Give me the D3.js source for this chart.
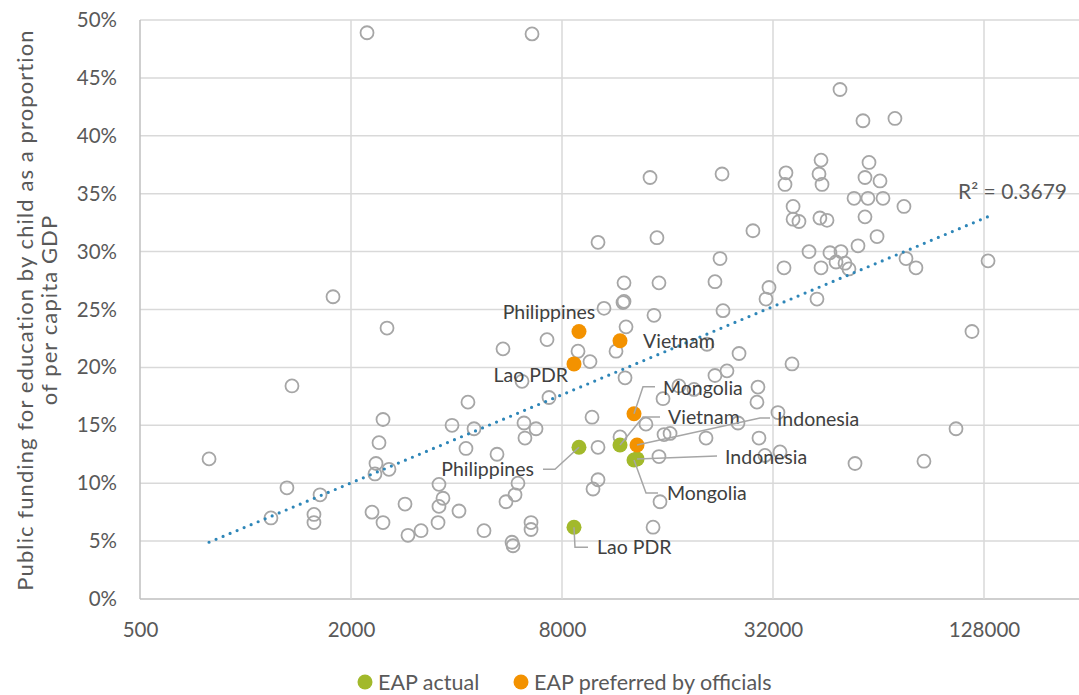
<!DOCTYPE html>
<html>
<head>
<meta charset="utf-8">
<script src="https://cdn.jsdelivr.net/npm/d3@7"></script>
<style>
  body { margin: 0; background: #fff; }
  svg { display: block; font-family: Lato, "Open Sans", sans-serif; }
</style>
</head>
<body>
<svg id="chart" width="1079" height="695"></svg>
<script>
// GDP per capita (x) and public funding share in % (y) for all other countries
const otherGdp = [
  787, 1182, 1313, 1357, 1568, 1568, 1632, 1777, 2222, 2534,
  2468, 2404, 2357, 2341, 2567, 2296, 2468, 2852, 2908, 3169,
  3565, 3660, 3565, 3543, 3884, 4066, 5429, 7250, 6152, 7345,
  4313, 4488, 6232, 6745, 6272, 4257, 5220, 5991, 5876, 5537,
  6527, 6527, 4792, 5760, 5799, 6570, 10543, 11944, 14640, 23040,
  12184, 11408, 8888, 9616, 12104, 20736, 25600, 36256, 15536, 21856,
  23648, 28992, 28800, 17248, 19040, 9744, 13888, 15640, 16272, 20608,
  25424, 29184, 33056, 30352, 33504, 10136, 11712, 15128, 10136, 9808,
  15232, 14552, 14264, 22896, 28048, 10136, 14928, 22592, 12024, 15128,
  21856, 12024, 31168, 30560, 34400, 42720, 40544, 49696, 57792, 71296,
  43872, 34848, 34624, 43296, 44160, 60128, 58560, 64640, 54496, 59712,
  65920, 75648, 36512, 36512, 37952, 43552, 45632, 58560, 63392, 55936,
  46528, 50016, 48416, 51360, 52704, 43872, 76672, 81856, 131456, 118272,
  106496, 54848, 86272
];
const otherShare = [
  12.1, 7.0, 9.6, 18.4, 7.3, 6.6, 9.0, 26.1, 48.9, 23.4,
  15.5, 13.5, 11.7, 10.8, 11.2, 7.5, 6.6, 8.2, 5.5, 5.9,
  9.9, 8.7, 8.0, 6.6, 15.0, 7.6, 21.6, 22.4, 18.8, 17.4,
  17.0, 14.7, 15.2, 14.7, 13.9, 13.0, 12.5, 10.0, 9.0, 8.4,
  6.6, 6.0, 5.9, 4.9, 4.6, 48.8, 25.1, 25.6, 24.5, 24.9,
  23.5, 21.4, 21.4, 20.5, 19.1, 22.0, 21.2, 20.3, 17.3, 19.3,
  19.7, 18.3, 17.0, 18.4, 18.1, 15.7, 15.1, 14.2, 14.3, 13.9,
  15.2, 13.9, 16.1, 12.4, 12.7, 13.1, 14.0, 12.3, 10.3, 9.5,
  8.4, 6.2, 36.4, 36.7, 31.8, 30.8, 31.2, 29.4, 27.3, 27.3,
  27.4, 25.7, 26.9, 25.9, 28.6, 25.9, 30.0, 44.0, 41.3, 41.5,
  37.9, 36.8, 35.8, 36.7, 35.8, 37.7, 36.4, 36.1, 34.6, 34.6,
  34.6, 33.9, 33.9, 32.8, 32.6, 32.9, 32.7, 33.0, 31.3, 30.5,
  29.9, 30.0, 29.1, 29.0, 28.5, 28.6, 29.4, 28.6, 29.2, 23.1,
  14.7, 11.7, 11.9
];

// East Asia & Pacific countries
const eapCountries = ["Philippines", "Vietnam", "Mongolia", "Indonesia", "Lao PDR"];
const eapGdp = [8944, 11712, 12840, 13096, 8656];
const eapActual = [13.1, 13.3, 12.0, 12.1, 6.2];
const eapPreferred = [23.1, 22.3, 16.0, 13.3, 20.3];

// logarithmic trendline at its two ends
const trendGdp = [787, 131000];
const trendShare = [4.9, 33.0];
const trendLabel = "R² = 0.3679";

const xTicks = [500, 2000, 8000, 32000, 128000];
const yTicks = [0, 5, 10, 15, 20, 25, 30, 35, 40, 45, 50];

const seriesNames = ["EAP actual", "EAP preferred by officials"];
const seriesColors = ["#A2B92B", "#F39200"];

// label placement: leader path (relative to point) and text offset
const labelLayout = {
  "actual:Philippines": { path: [[0, 0], [-24, 22], [-36, 22]], dx: -45, dy: 22, anchor: "end" },
  "actual:Vietnam": { path: [[0, 0], [23, -28], [40, -28]], dx: 48, dy: -28, anchor: "start" },
  "actual:Mongolia": { path: [[0, 0], [12, 33], [24, 33]], dx: 33, dy: 33, anchor: "start" },
  "actual:Indonesia": { path: [[0, 0], [80, -3]], dx: 88, dy: -2, anchor: "start" },
  "actual:Lao PDR": { path: [[0, 0], [1, 20], [14, 20]], dx: 23, dy: 20, anchor: "start" },
  "preferred:Philippines": { path: null, dx: -30, dy: -19, anchor: "middle" },
  "preferred:Vietnam": { path: null, dx: 23, dy: 0, anchor: "start" },
  "preferred:Lao PDR": { path: null, dx: -6, dy: 11, anchor: "end" },
  "preferred:Mongolia": { path: [[0, 0], [9, -27], [21, -27]], dx: 29, dy: -26, anchor: "start" },
  "preferred:Indonesia": { path: [[0, 0], [123, -27], [133, -27]], dx: 140, dy: -26, anchor: "start" }
};

const width = 1079;
const height = 695;
const margin = { left: 140, top: 20, bottom: 96 };
const plotBottom = height - margin.bottom;

const textColor = "#595959";
const gridColor = "#D9D9D9";

const svg = d3.select("#chart");

const x = d3.scaleLog().base(2).domain([500, 512000]).range([margin.left, margin.left + 5 * 211]);
const y = d3.scaleLinear().domain([0, 50]).range([plotBottom, margin.top]);

// gridlines
svg.append("g")
  .selectAll("line")
  .data(yTicks)
  .join("line")
  .attr("x1", margin.left)
  .attr("x2", width)
  .attr("y1", d => y(d))
  .attr("y2", d => y(d))
  .attr("stroke", d => (d === 0 ? "#BFBFBF" : gridColor))
  .attr("stroke-width", 1.5);

svg.append("g")
  .selectAll("line")
  .data(xTicks)
  .join("line")
  .attr("x1", d => x(d))
  .attr("x2", d => x(d))
  .attr("y1", margin.top)
  .attr("y2", plotBottom)
  .attr("stroke", d => (d === 500 ? "#BFBFBF" : gridColor))
  .attr("stroke-width", 1.5);

// axes
const xAxis = svg.append("g")
  .attr("transform", `translate(0,${plotBottom})`)
  .call(d3.axisBottom(x).tickValues(xTicks).tickFormat(d3.format("d")).tickSize(0).tickPadding(23));

const yAxis = svg.append("g")
  .attr("transform", `translate(${margin.left},0)`)
  .call(d3.axisLeft(y).tickValues(yTicks).tickFormat(d => d + "%").tickSize(0).tickPadding(23));

[xAxis, yAxis].forEach(axis => {
  axis.select(".domain").remove();
  axis.selectAll("text")
    .attr("fill", textColor)
    .style("font-size", "20.5px")
    .style("font-family", "Lato, sans-serif");
});

// y axis title, two lines
const yTitle = svg.append("text")
  .attr("transform", `translate(25,310) rotate(-90)`)
  .attr("text-anchor", "middle")
  .attr("fill", textColor)
  .style("font-size", "22px")
  .style("letter-spacing", "1.1px");
yTitle.append("tspan").attr("x", 0).attr("dy", "0.35em").text("Public funding for education by child as a proportion");
yTitle.append("tspan").attr("x", 0).attr("dy", "1.1em").text("of per capita GDP");

// all other countries
const others = otherGdp.map((g, i) => ({ gdp: g, share: otherShare[i] }));

svg.append("g")
  .selectAll("circle")
  .data(others)
  .join("circle")
  .attr("cx", d => x(d.gdp))
  .attr("cy", d => y(d.share))
  .attr("r", 6.5)
  .attr("fill", "none")
  .attr("stroke", "#A6A6A6")
  .attr("stroke-width", 1.8);

// trendline
const trend = trendGdp.map((g, i) => [g, trendShare[i]]);
svg.append("path")
  .datum(trend)
  .attr("d", d3.line().x(d => x(d[0])).y(d => y(d[1])))
  .attr("fill", "none")
  .attr("stroke", "#2E86B8")
  .attr("stroke-width", 3.2)
  .attr("stroke-linecap", "round")
  .attr("stroke-dasharray", "0 7.6");

svg.append("text")
  .attr("x", 1067)
  .attr("y", 199)
  .attr("text-anchor", "end")
  .attr("fill", textColor)
  .style("font-size", "21px")
  .text(trendLabel);

// EAP points with labels
const eap = [
  ...eapCountries.map((name, i) => ({
    series: "actual", name, gdp: eapGdp[i], share: eapActual[i], color: seriesColors[0]
  })),
  ...eapCountries.map((name, i) => ({
    series: "preferred", name, gdp: eapGdp[i], share: eapPreferred[i], color: seriesColors[1]
  }))
];

svg.append("g")
  .selectAll("circle")
  .data(eap)
  .join("circle")
  .attr("cx", d => x(d.gdp))
  .attr("cy", d => y(d.share))
  .attr("r", 7.5)
  .attr("fill", d => d.color);

const labels = svg.append("g");
eap.forEach(d => {
  const layout = labelLayout[`${d.series}:${d.name}`];
  const px = x(d.gdp);
  const py = y(d.share);
  if (layout.path) {
    labels.append("path")
      .attr("d", d3.line()(layout.path.map(([dx, dy]) => [px + dx, py + dy])))
      .attr("fill", "none")
      .attr("stroke", "#A6A6A6")
      .attr("stroke-width", 1.5);
  }
  labels.append("text")
    .attr("x", px + layout.dx)
    .attr("y", py + layout.dy)
    .attr("dy", "0.35em")
    .attr("text-anchor", layout.anchor)
    .attr("fill", "#404040")
    .style("font-size", "19.5px")
    .text(d.name);
});

// legend
const legend = svg.append("g").attr("transform", `translate(0,682)`);
const legendX = [365, 521];
seriesNames.forEach((name, i) => {
  legend.append("circle")
    .attr("cx", legendX[i])
    .attr("cy", 0)
    .attr("r", 7.5)
    .attr("fill", seriesColors[i]);
  legend.append("text")
    .attr("x", legendX[i] + 13)
    .attr("y", 0)
    .attr("dy", "0.35em")
    .attr("fill", textColor)
    .style("font-size", "21.5px")
    .text(name);
});
</script>
</body>
</html>
